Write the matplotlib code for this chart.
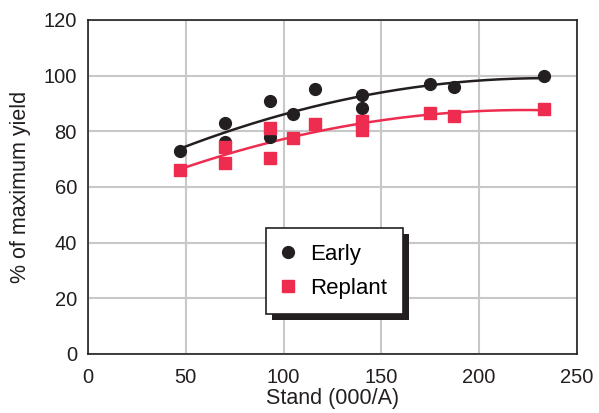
import numpy as np
import matplotlib.pyplot as plt
from matplotlib.patches import Rectangle

plt.rcParams['font.family'] = ['Liberation Sans', 'DejaVu Sans']

# datos
early_x = [47, 70, 70, 93, 93, 105, 116, 140, 140, 175, 187, 233]
early_y = [73, 83, 76, 91, 78, 86, 95, 93, 88.5, 97, 95.7, 100]
replant_x = [47, 70, 70, 93, 93, 105, 116, 140, 140, 175, 187, 233]
replant_y = [66, 68.6, 74.5, 81.2, 70.4, 77.6, 82.6, 83.5, 80.3, 86.6, 85.6, 88]

black = '#231f20'
red = '#ee2c50'

fig = plt.figure(figsize=(5.99, 4.13), dpi=100)
ax = fig.add_axes([0.147, 0.143, 0.816, 0.809])

# curvas de ajuste (cuadraticas)
xs = np.linspace(47, 233, 200)
c_early = np.polyfit(early_x, early_y, 2)
c_rep = np.polyfit(replant_x, replant_y, 2)
ax.plot(xs, np.polyval(c_early, xs), color=black, lw=1.8, zorder=3)
ax.plot(xs, np.polyval(c_rep, xs), color=red, lw=1.8, zorder=3)

ax.plot(early_x, early_y, 'o', color=black, ms=8.5, ls='none', zorder=4, label='Early')
ax.plot(replant_x, replant_y, 's', color=red, ms=8.5, ls='none', zorder=5, label='Replant')

ax.set_xlim(0, 250)
ax.set_ylim(0, 120)
ax.set_xticks([0, 50, 100, 150, 200, 250])
ax.set_yticks([0, 20, 40, 60, 80, 100, 120])
ax.grid(True, color='#c8c8c8', lw=1.5)
ax.set_axisbelow(True)
ax.tick_params(length=0, labelsize=14.5, colors=black)
ax.tick_params(axis='x', pad=10)
ax.tick_params(axis='y', pad=8)
for s in ax.spines.values():
    s.set_color(black)
    s.set_linewidth(1.2)

ax.set_xlabel('Stand (000/A)', fontsize=15.5, color=black, labelpad=1)
ax.set_ylabel('% of maximum yield', fontsize=15.5, color=black, labelpad=9)

leg = ax.legend(loc='upper left', bbox_to_anchor=(0.364, 0.377), fontsize=16,
                frameon=True, fancybox=False, edgecolor=black, framealpha=1,
                handlelength=0.6, handletextpad=0.7, borderpad=0.7,
                labelspacing=0.6, borderaxespad=0)
leg.get_frame().set_linewidth(1.2)
leg.set_zorder(10)

# sombra del cuadro de leyenda
fig.canvas.draw()
bb = leg.get_window_extent().transformed(ax.transAxes.inverted())
off_x, off_y = 6 / (0.816 * 599), 6 / (0.809 * 413)
ax.add_patch(Rectangle((bb.x0 + off_x, bb.y0 - off_y), bb.width, bb.height,
                       transform=ax.transAxes, facecolor=black,
                       edgecolor='none', zorder=9, clip_on=False))

plt.savefig('out.png', dpi=100)
